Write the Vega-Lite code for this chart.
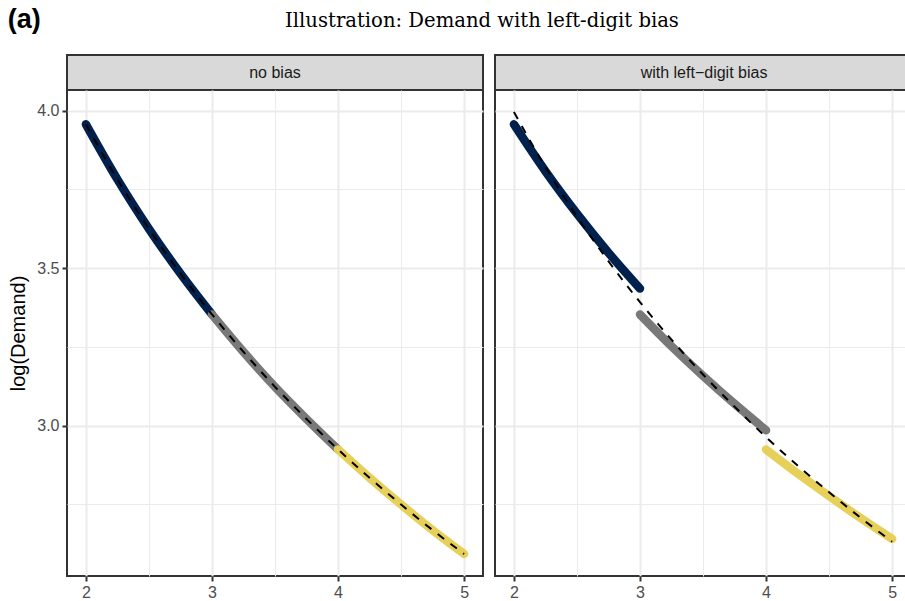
{
  "$schema": "https://vega.github.io/schema/vega-lite/v6.json",
  "background": "white",
  "padding": {"left": 7, "top": 6, "right": 0, "bottom": 0},
  "title": {"text": "Illustration: Demand with left-digit bias", "anchor": "middle", "frame": "group", "font": "DejaVu Serif", "fontSize": 19.6, "fontWeight": "normal", "color": "#000000", "offset": -26, "dx": 415},
  "datasets": {
    "curves": [
      {"panel": "no bias", "seg": "low", "price": 2.00, "logd": 3.957},
      {"panel": "no bias", "seg": "low", "price": 2.25, "logd": 3.782},
      {"panel": "no bias", "seg": "low", "price": 2.50, "logd": 3.625},
      {"panel": "no bias", "seg": "low", "price": 2.75, "logd": 3.483},
      {"panel": "no bias", "seg": "low", "price": 3.00, "logd": 3.353},
      {"panel": "no bias", "seg": "mid", "price": 3.00, "logd": 3.353},
      {"panel": "no bias", "seg": "mid", "price": 3.25, "logd": 3.234},
      {"panel": "no bias", "seg": "mid", "price": 3.50, "logd": 3.123},
      {"panel": "no bias", "seg": "mid", "price": 3.75, "logd": 3.021},
      {"panel": "no bias", "seg": "mid", "price": 4.00, "logd": 2.924},
      {"panel": "no bias", "seg": "high", "price": 4.00, "logd": 2.924},
      {"panel": "no bias", "seg": "high", "price": 4.25, "logd": 2.834},
      {"panel": "no bias", "seg": "high", "price": 4.50, "logd": 2.749},
      {"panel": "no bias", "seg": "high", "price": 4.75, "logd": 2.668},
      {"panel": "no bias", "seg": "high", "price": 5.00, "logd": 2.592},
      {"panel": "bias", "seg": "low", "price": 2.00, "logd": 3.957},
      {"panel": "bias", "seg": "low", "price": 2.25, "logd": 3.808},
      {"panel": "bias", "seg": "low", "price": 2.50, "logd": 3.673},
      {"panel": "bias", "seg": "low", "price": 2.75, "logd": 3.549},
      {"panel": "bias", "seg": "low", "price": 3.00, "logd": 3.435},
      {"panel": "bias", "seg": "mid", "price": 3.00, "logd": 3.353},
      {"panel": "bias", "seg": "mid", "price": 3.25, "logd": 3.252},
      {"panel": "bias", "seg": "mid", "price": 3.50, "logd": 3.158},
      {"panel": "bias", "seg": "mid", "price": 3.75, "logd": 3.069},
      {"panel": "bias", "seg": "mid", "price": 4.00, "logd": 2.985},
      {"panel": "bias", "seg": "high", "price": 4.00, "logd": 2.924},
      {"panel": "bias", "seg": "high", "price": 4.25, "logd": 2.848},
      {"panel": "bias", "seg": "high", "price": 4.50, "logd": 2.776},
      {"panel": "bias", "seg": "high", "price": 4.75, "logd": 2.706},
      {"panel": "bias", "seg": "high", "price": 5.00, "logd": 2.640}
    ],
    "fits": [
      {"panel": "no bias", "price": 2.00, "logd": 3.957},
      {"panel": "no bias", "price": 2.25, "logd": 3.782},
      {"panel": "no bias", "price": 2.50, "logd": 3.625},
      {"panel": "no bias", "price": 2.75, "logd": 3.483},
      {"panel": "no bias", "price": 3.00, "logd": 3.353},
      {"panel": "no bias", "price": 3.25, "logd": 3.234},
      {"panel": "no bias", "price": 3.50, "logd": 3.123},
      {"panel": "no bias", "price": 3.75, "logd": 3.021},
      {"panel": "no bias", "price": 4.00, "logd": 2.924},
      {"panel": "no bias", "price": 4.25, "logd": 2.834},
      {"panel": "no bias", "price": 4.50, "logd": 2.749},
      {"panel": "no bias", "price": 4.75, "logd": 2.668},
      {"panel": "no bias", "price": 5.00, "logd": 2.592},
      {"panel": "bias", "price": 2.00, "logd": 3.996},
      {"panel": "bias", "price": 2.25, "logd": 3.821},
      {"panel": "bias", "price": 2.50, "logd": 3.664},
      {"panel": "bias", "price": 2.75, "logd": 3.522},
      {"panel": "bias", "price": 3.00, "logd": 3.392},
      {"panel": "bias", "price": 3.25, "logd": 3.273},
      {"panel": "bias", "price": 3.50, "logd": 3.162},
      {"panel": "bias", "price": 3.75, "logd": 3.060},
      {"panel": "bias", "price": 4.00, "logd": 2.963},
      {"panel": "bias", "price": 4.25, "logd": 2.873},
      {"panel": "bias", "price": 4.50, "logd": 2.788},
      {"panel": "bias", "price": 4.75, "logd": 2.707},
      {"panel": "bias", "price": 5.00, "logd": 2.631}
    ]
  },
  "vconcat": [
    {
      "title": {"text": "(a)", "anchor": "start", "frame": "bounds", "font": "Liberation Sans", "fontWeight": "bold", "fontSize": 27, "color": "#000000", "offset": 20},
      "hconcat": [
        {
          "vconcat": [
            {
              "width": 416, "height": 35,
              "view": {"fill": "#D9D9D9", "stroke": "#333333", "strokeWidth": 2},
              "data": {"values": [{"label": "no bias"}]},
              "mark": {"type": "text", "font": "Liberation Sans", "fontSize": 16, "color": "#1A1A1A"},
              "encoding": {"text": {"field": "label"}}
            },
            {
              "width": 416, "height": 486,
              "view": {"stroke": "#333333", "strokeWidth": 2, "fill": "white"},
              "layer": [
                {
                  "data": {"name": "curves"},
                  "transform": [{"filter": "datum.panel === 'no bias'"}],
                  "mark": {"type": "line", "strokeWidth": 8.5, "strokeCap": "round", "strokeJoin": "round", "interpolate": "monotone"},
                  "encoding": {
                    "x": {"field": "price", "type": "quantitative", "scale": {"domain": [1.85, 5.15], "nice": false, "zero": false},
                      "axis": {"title": null, "values": [2, 2.5, 3, 3.5, 4, 4.5, 5], "labelExpr": "datum.value % 1 === 0 ? format(datum.value, 'd') : ''",
                        "tickOpacity": {"condition": {"test": "datum.value % 1 !== 0", "value": 0}, "value": 1},
                        "gridWidth": {"condition": {"test": "datum.value % 1 !== 0", "value": 1}, "value": 2}}},
                    "y": {"field": "logd", "type": "quantitative", "scale": {"domain": [2.522, 4.066], "nice": false, "zero": false},
                      "axis": {"title": "log(Demand)", "values": [2.75, 3, 3.25, 3.5, 3.75, 4], "labelExpr": "(datum.value * 2) % 1 === 0 ? format(datum.value, '.1f') : ''",
                        "tickOpacity": {"condition": {"test": "(datum.value * 2) % 1 !== 0", "value": 0}, "value": 1},
                        "gridWidth": {"condition": {"test": "(datum.value * 2) % 1 !== 0", "value": 1}, "value": 2}}},
                    "color": {"field": "seg", "type": "nominal", "scale": {"domain": ["low", "mid", "high"], "range": ["#00204D", "#797979", "#E7D05A"]}, "legend": null}
                  }
                },
                {
                  "data": {"name": "fits"},
                  "transform": [{"filter": "datum.panel === 'no bias'"}],
                  "mark": {"type": "line", "color": "#000000", "strokeWidth": 2, "strokeDash": [8, 8], "interpolate": "monotone"},
                  "encoding": {
                    "x": {"field": "price", "type": "quantitative"},
                    "y": {"field": "logd", "type": "quantitative"}
                  }
                }
              ]
            }
          ],
          "spacing": 0,
          "bounds": "flush"
        },
        {
          "vconcat": [
            {
              "width": 412, "height": 35,
              "view": {"fill": "#D9D9D9", "stroke": "#333333", "strokeWidth": 2},
              "data": {"values": [{"label": "with left−digit bias"}]},
              "mark": {"type": "text", "font": "Liberation Sans", "fontSize": 16, "color": "#1A1A1A", "dx": 3},
              "encoding": {"text": {"field": "label"}}
            },
            {
              "width": 412, "height": 486,
              "view": {"stroke": "#333333", "strokeWidth": 2, "fill": "white"},
              "layer": [
                {
                  "data": {"name": "curves"},
                  "transform": [{"filter": "datum.panel === 'bias'"}],
                  "mark": {"type": "line", "strokeWidth": 8.5, "strokeCap": "round", "strokeJoin": "round", "interpolate": "monotone"},
                  "encoding": {
                    "x": {"field": "price", "type": "quantitative", "scale": {"domain": [1.85, 5.118], "nice": false, "zero": false},
                      "axis": {"title": null, "values": [2, 2.5, 3, 3.5, 4, 4.5, 5], "labelExpr": "datum.value % 1 === 0 ? format(datum.value, 'd') : ''",
                        "tickOpacity": {"condition": {"test": "datum.value % 1 !== 0", "value": 0}, "value": 1},
                        "gridWidth": {"condition": {"test": "datum.value % 1 !== 0", "value": 1}, "value": 2}}},
                    "y": {"field": "logd", "type": "quantitative", "scale": {"domain": [2.522, 4.066], "nice": false, "zero": false},
                      "axis": {"title": null, "labels": false, "ticks": false, "values": [2.75, 3, 3.25, 3.5, 3.75, 4],
                        "gridWidth": {"condition": {"test": "(datum.value * 2) % 1 !== 0", "value": 1}, "value": 2}}},
                    "color": {"field": "seg", "type": "nominal", "scale": {"domain": ["low", "mid", "high"], "range": ["#00204D", "#797979", "#E7D05A"]}, "legend": null}
                  }
                },
                {
                  "data": {"name": "fits"},
                  "transform": [{"filter": "datum.panel === 'bias'"}],
                  "mark": {"type": "line", "color": "#000000", "strokeWidth": 2, "strokeDash": [8, 8], "interpolate": "monotone"},
                  "encoding": {
                    "x": {"field": "price", "type": "quantitative"},
                    "y": {"field": "logd", "type": "quantitative"}
                  }
                }
              ]
            }
          ],
          "spacing": 0,
          "bounds": "flush"
        }
      ],
      "spacing": 10,
      "resolve": {"scale": {"x": "independent", "y": "independent"}}
    }
  ],
  "config": {
    "axis": {
      "gridColor": "#EBEBEB",
      "domain": false,
      "tickColor": "#333333",
      "tickWidth": 2,
      "tickSize": 5,
      "labelFont": "Liberation Sans",
      "labelFontSize": 16,
      "labelColor": "#4D4D4D",
      "labelPadding": 3,
      "titleFont": "Liberation Sans",
      "titleFontSize": 20,
      "titleFontWeight": "normal",
      "titleColor": "#000000",
      "titlePadding": 8
    }
  }
}
